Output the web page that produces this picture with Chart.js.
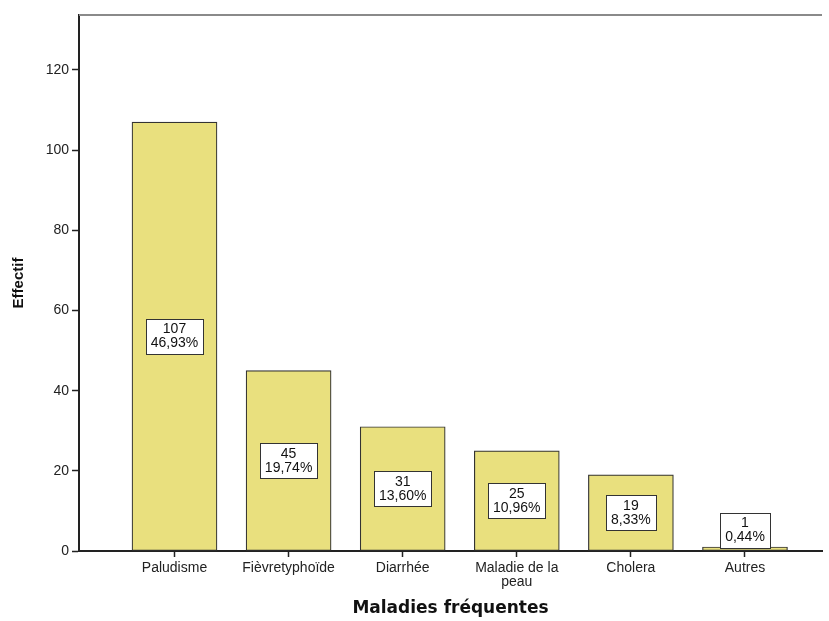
<!DOCTYPE html>
<html lang="fr">
<head>
<meta charset="utf-8">
<title>Maladies fréquentes</title>
<script src="https://cdn.jsdelivr.net/npm/chart.js@4.4.1/dist/chart.umd.min.js"></script>
<style>
  html, body { margin: 0; padding: 0; background: #ffffff; }
  canvas { display: block; }
</style>
</head>
<body>
<canvas id="chart" width="829" height="621"></canvas>
<script>
// Effectifs par maladie
const categories = [
  'Paludisme',
  'Fièvretyphoïde',
  'Diarrhée',
  ['Maladie de la', 'peau'],
  'Cholera',
  'Autres'
];
const counts = [107, 45, 31, 25, 19, 1];
const percentLabels = ['46,93%', '19,74%', '13,60%', '10,96%', '8,33%', '0,44%'];
const yTicks = [0, 20, 40, 60, 80, 100, 120];

const FONT = "'Liberation Sans', Arial, sans-serif";

// Étiquettes encadrées : effectif + pourcentage, au milieu de chaque barre
const boxLabels = {
  id: 'boxLabels',
  afterDatasetsDraw(chart) {
    const { ctx } = chart;
    const yScale = chart.scales.y;
    const meta = chart.getDatasetMeta(0);
    ctx.save();
    ctx.font = '14px ' + FONT;
    ctx.textAlign = 'center';
    ctx.textBaseline = 'middle';
    meta.data.forEach((bar, i) => {
      const lines = [String(counts[i]), percentLabels[i]];
      const w = Math.round(Math.max(...lines.map(t => ctx.measureText(t).width)) + 10);
      const h = 35;
      let cy = yScale.getPixelForValue(counts[i] / 2);
      cy = Math.min(cy, yScale.bottom - 3 - h / 2);
      const x0 = Math.round(bar.x - w / 2) + 0.5;
      const y0 = Math.round(cy - h / 2) + 0.5;
      ctx.fillStyle = '#ffffff';
      ctx.fillRect(x0, y0, w, h);
      ctx.strokeStyle = '#333333';
      ctx.lineWidth = 1;
      ctx.strokeRect(x0, y0, w, h);
      ctx.fillStyle = '#111111';
      ctx.fillText(lines[0], bar.x, cy - 7);
      ctx.fillText(lines[1], bar.x, cy + 7);
    });
    ctx.restore();
  }
};

// Cadre supérieur gris de la zone de tracé
const topFrame = {
  id: 'topFrame',
  afterDraw(chart) {
    const { ctx, chartArea } = chart;
    ctx.save();
    ctx.strokeStyle = '#8a8a8a';
    ctx.lineWidth = 2;
    ctx.beginPath();
    ctx.moveTo(chartArea.left, chartArea.top);
    ctx.lineTo(chartArea.right, chartArea.top);
    ctx.stroke();
    ctx.restore();
  }
};

const whiteBg = {
  id: 'whiteBg',
  beforeDraw(chart) {
    const { ctx } = chart;
    ctx.save();
    ctx.fillStyle = '#ffffff';
    ctx.fillRect(0, 0, chart.width, chart.height);
    ctx.restore();
  }
};

new Chart(document.getElementById('chart'), {
  type: 'bar',
  data: {
    datasets: [{
      label: 'Effectif',
      data: counts.map((v, i) => ({ x: i, y: v })),
      backgroundColor: '#E9E07E',
      borderColor: '#333333',
      borderWidth: 1.2,
      borderSkipped: false,
      barThickness: 85
    }]
  },
  options: {
    responsive: false,
    devicePixelRatio: 1,
    animation: false,
    layout: { padding: { left: 0, top: 15, right: 7, bottom: 0 } },
    plugins: {
      legend: { display: false },
      tooltip: { enabled: false }
    },
    scales: {
      x: {
        type: 'linear',
        offset: false,
        min: -0.837,
        max: 5.675,
        afterBuildTicks(scale) {
          scale.ticks = categories.map((_, i) => ({ value: i }));
        },
        afterFit(scale) { scale.height = 70; },
        ticks: {
          autoSkip: false,
          maxRotation: 0,
          padding: 4,
          color: '#222222',
          font: { family: FONT, size: 14, lineHeight: 1.0 },
          callback: (v) => categories[v]
        },
        grid: {
          offset: false,
          drawOnChartArea: false,
          drawTicks: true,
          tickLength: 6,
          tickColor: '#222222',
          tickWidth: 1.5
        },
        border: { display: true, color: '#222222', width: 2 },
        title: {
          display: true,
          text: 'Maladies fréquentes',
          color: '#111111',
          font: { family: "'DejaVu Sans', sans-serif", size: 17, weight: 'bold' },
          padding: { top: 0, bottom: 2 }
        }
      },
      y: {
        min: 0,
        max: 133.7,
        afterBuildTicks(scale) {
          scale.ticks = yTicks.map(v => ({ value: v }));
        },
        afterFit(scale) { scale.width = 79; },
        ticks: {
          padding: 3,
          color: '#222222',
          font: { family: FONT, size: 14 }
        },
        grid: {
          drawOnChartArea: false,
          drawTicks: true,
          tickLength: 7,
          tickColor: '#222222',
          tickWidth: 1.5
        },
        border: { display: true, color: '#222222', width: 2 },
        title: {
          display: true,
          text: 'Effectif',
          color: '#111111',
          font: { family: FONT, size: 15, weight: 'bold' },
          padding: { top: 10, bottom: 0 }
        }
      }
    }
  },
  plugins: [whiteBg, boxLabels, topFrame]
});
</script>
</body>
</html>
